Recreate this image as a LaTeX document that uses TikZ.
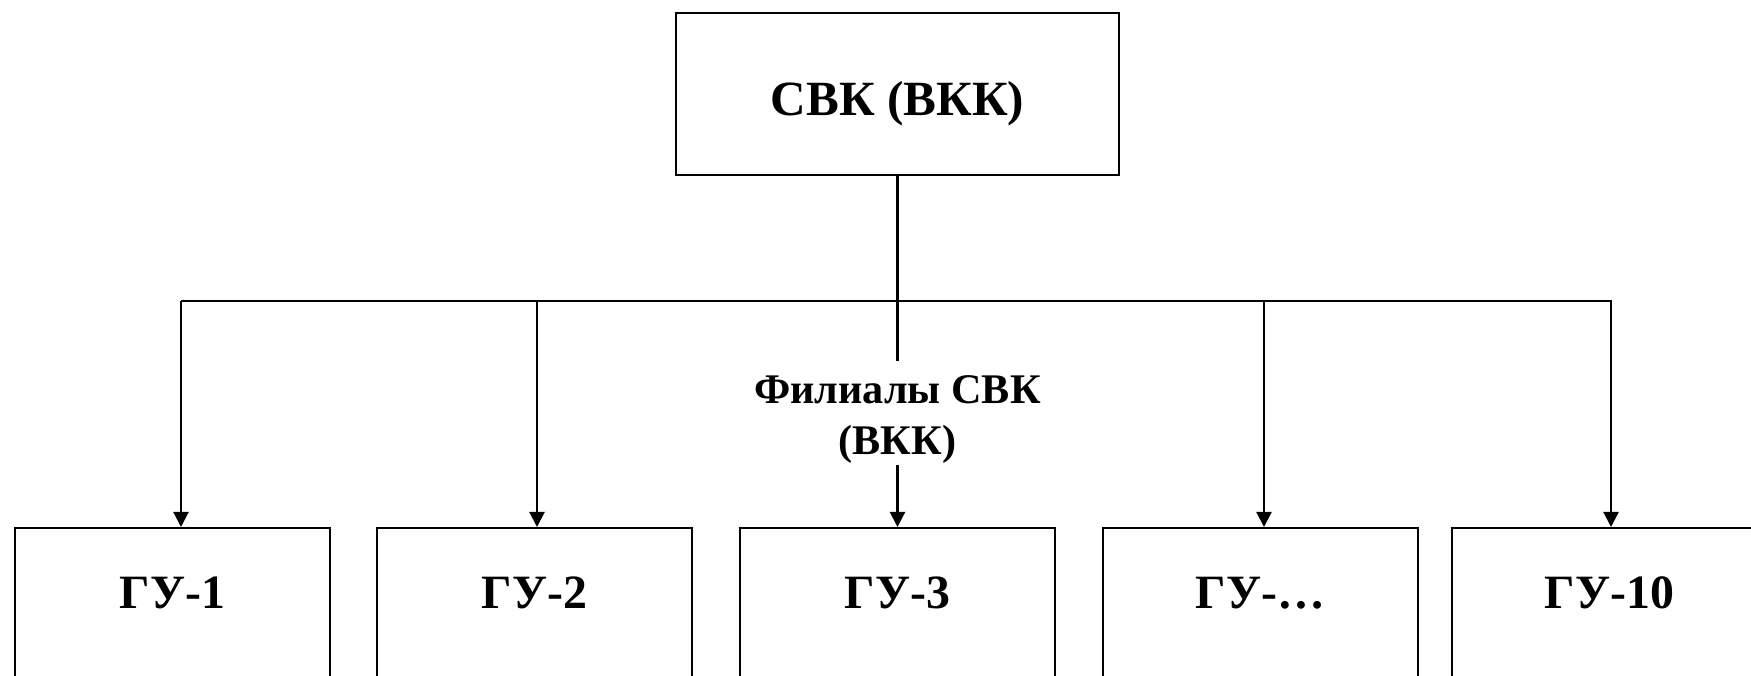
\documentclass[tikz,border=0pt]{standalone}
\usepackage{fontspec}
\setmainfont{Liberation Serif}
\usetikzlibrary{arrows.meta, positioning}

\begin{document}
\begin{tikzpicture}[x=0.01cm, y=-0.01cm, line width=0.6pt,
  box/.style={draw, inner sep=0pt},
  gu/.style={box, anchor=north, minimum width=3.15cm, text height=0.8cm, text depth=1.2cm,
    font=\bfseries\fontsize{13.6}{16}\selectfont},
  arr/.style={-{Triangle[width=0.15cm,length=0.15cm]}}]
\useasboundingbox (0,0) rectangle (1751,676);
\clip (0,0) rectangle (1751,676);
\node[box, minimum width=4.43cm, minimum height=1.62cm, text height=0.42cm, text depth=0pt,
  font=\bfseries\fontsize{14}{17}\selectfont] (svk) at (897.5,94) {СВК (ВКК)};
\node[gu] (g1) at (172.5,527) {ГУ-1};
\node[gu] (g2) at (534.5,527) {ГУ-2};
\node[gu] (g3) at (897.5,527) {ГУ-3};
\node[gu] (g4) at (1260.5,527) {ГУ-…};
\node[gu] (g5) at (1609.5,527) {ГУ-10};
\node[align=center, inner sep=0pt, font=\bfseries\fontsize{12}{14.5}\selectfont] (fil)
  at (897.5,420) {Филиалы СВК\\(ВКК)};
\draw[shorten >=0.14cm] (svk) -- (fil);
\draw[arr] (fil) -- (g3);
\draw (181,301) -- (1612,301);
\foreach \x/\g in {181/g1, 537/g2, 1264/g4, 1611/g5}
  \draw[arr] (\x,301) -- (\x,0 |- \g.north);
\end{tikzpicture}
\end{document}
